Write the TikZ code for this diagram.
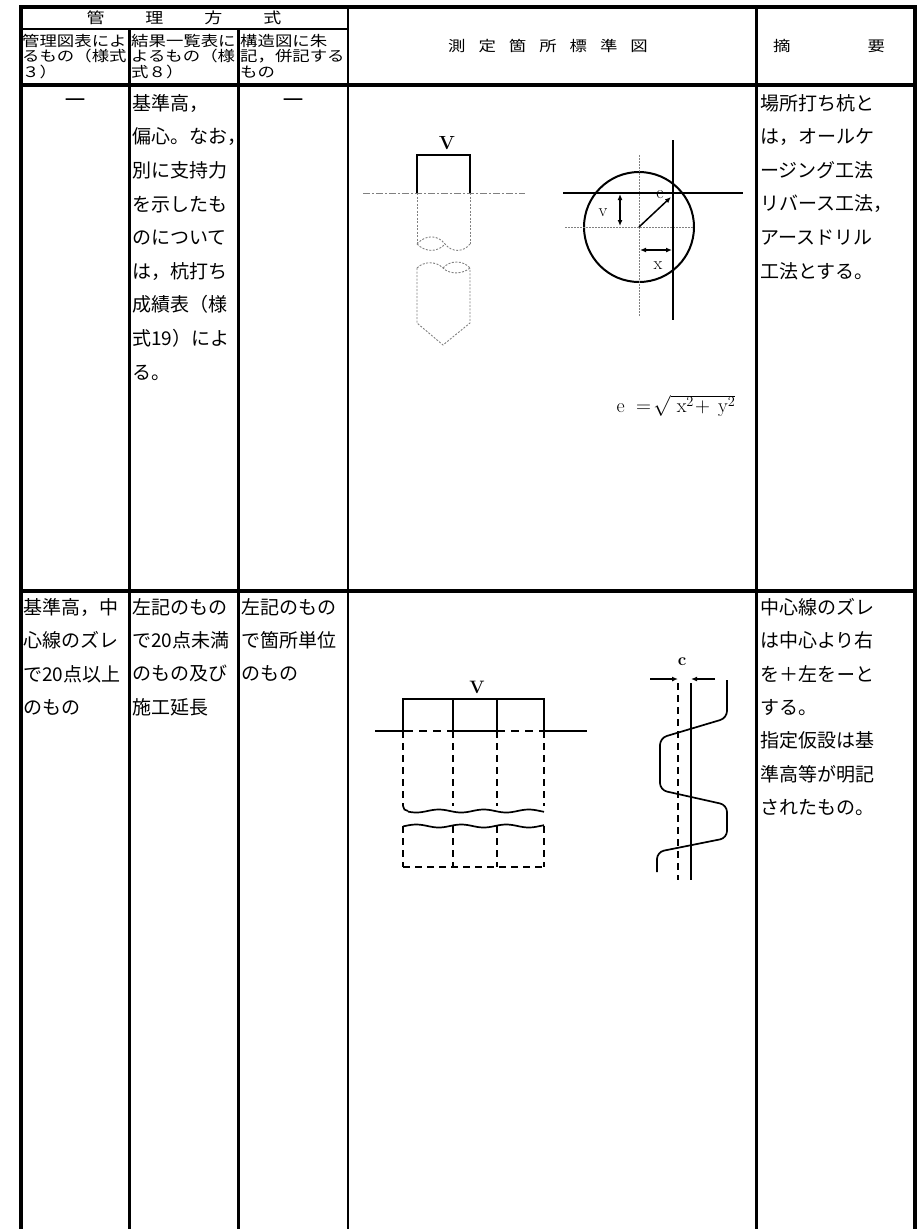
\documentclass[tikz,border=0pt]{standalone}
\usepackage{fontspec}
\newfontfamily\jp{Noto Sans CJK JP}
\newfontfamily\jpw[FakeStretch=1.2]{Noto Sans CJK JP}
\newfontfamily\jpb[FakeBold=3]{Noto Sans CJK JP}
\tikzset{
  cell/.style={font=\jp\fontsize{19}{33.6}\selectfont, anchor=north west, align=left, inner sep=0pt},
  headcell/.style={font=\jpw\fontsize{14.5}{15.5}\selectfont, anchor=north west, align=left, inner sep=0pt},
  title/.style={font=\jpw\fontsize{14.5}{16}\selectfont, inner sep=0pt},
  pile/.style={gray, dash pattern=on 2pt off 1.5pt, line width=.9pt},
  axis/.style={gray, dash pattern=on 1.5pt off 1.5pt, line width=.9pt},
  lbl/.style={font=\fontsize{18}{18}\selectfont, inner sep=0pt},
  wall/.style={line width=1.7pt},
  dim/.style={line width=1.5pt, >={Latex[length=6pt, width=5pt]}}
}
\usetikzlibrary{arrows.meta}
\begin{document}
\begin{tikzpicture}[>=latex, x=1pt, y=-1pt]
\useasboundingbox (0,0) rectangle (919,1229);
\draw[line width=4pt] (19,7)--(917,7);
\draw[line width=4pt] (21,7)--(21,1229);
\draw[line width=4pt] (915,7)--(915,1229);
\draw[line width=4pt] (19,85)--(917,85);
\draw[line width=4pt] (19,591)--(917,591);
\draw[line width=1.6pt] (21,29)--(348,29);
\foreach \x in {129,238}
{
    \draw[line width=3pt] (\x,29)--(\x,1229);
}
\draw[line width=1.6pt] (348,7)--(348,1229);
\draw[line width=3pt] (756,7)--(756,1229);
\node[title, font=\jpw\fontsize{15}{16}\selectfont] (kanri) at (184,18){管\hspace{41pt}理\hspace{41pt}方\hspace{41pt}式};
\node[title] (sokutei) at (548,46){測\hspace{13pt}定\hspace{13pt}箇\hspace{13pt}所\hspace{13pt}標\hspace{13pt}準\hspace{13pt}図};
\node[title] (tekiyo) at (829,46){摘\hspace{77pt}要};
\node[headcell] (h1) at (22,34){管理図表によ\\るもの（様式\\３）};
\node[headcell] (h2) at (131,34){結果一覧表に\\よるもの（様\\式８）};
\node[headcell] (h3) at (240,34){構造図に朱\\記，併記する\\もの};
\node[font=\jpb\fontsize{21}{21}\selectfont, inner sep=0pt] (dash1) at (75,103){―};
\node[font=\jpb\fontsize{21}{21}\selectfont, inner sep=0pt] (dash3) at (293,103){―};
\node[cell] (r1b) at (132,94){基準高，\\偏心。なお，\\別に支持力\\を示したも\\のについて\\は，杭打ち\\成績表（様\\式19）によ\\る。};
\node[cell] (r1e) at (760,94){場所打ち杭と\\は，オールケ\\ージング工法\\リバース工法，\\アースドリル\\工法とする。};
\node[cell, font=\jp\fontsize{19}{33.4}\selectfont] (r2a) at (23,598){基準高，中\\心線のズレ\\で20点以上\\のもの};
\node[cell, font=\jp\fontsize{19}{33.4}\selectfont] (r2b) at (132,598){左記のもの\\で20点未満\\のもの及び\\施工延長};
\node[cell, font=\jp\fontsize{19}{33.4}\selectfont] (r2c) at (241,598){左記のもの\\で箇所単位\\のもの};
\node[cell, font=\jp\fontsize{19}{33.4}\selectfont] (r2e) at (760,598){中心線のズレ\\は中心より右\\を＋左を{\jpb －}と\\する。\\指定仮設は基\\準高等が明記\\されたもの。};
\draw[line width=1.8pt] (417,193)--(417,155)--(470,155)--(470,193);
\node[lbl, font=\fontsize{19}{19}\selectfont\bfseries] (pv) at (447,143){V};
\draw[gray, line width=.9pt, dash pattern=on 7pt off 2pt on 2pt off 2pt] (363,193)--(525,193);
\draw[pile] (417,193)--(417,244) (470,193)--(470,244);
\draw[pile] (417,244) .. controls (426,234) and (438,235) .. (445,244) .. controls (452,253) and (464,252) .. (470,244);
\draw[pile] (417,244) .. controls (426,253) and (438,252) .. (445,244);
\draw[pile] (417,268) .. controls (424,261) and (436,261) .. (443,268) .. controls (450,275) and (463,274) .. (470,268);
\draw[pile] (443,268) .. controls (450,260) and (463,260) .. (470,268);
\draw[pile] (417,268)--(417,323)--(443,345)--(470,323)--(470,268);
\coordinate (o) at (639,227);
\draw[line width=2pt] (o) circle[radius=55pt];
\draw[axis] (639,155)--(639,317) (565,227)--(693,227);
\draw[line width=1.5pt] (563,193)--(743,193);
\draw[line width=1.5pt] (673,140)--(673,320);
\coordinate (vt) at (620,194);
\coordinate (vb) at (620,226);
\draw[dim, <->] (vt)--(vb);
\node[lbl] (lv) at (603,213){v};
\coordinate (et) at (671,197);
\draw[dim, ->] (o)--(et);
\node[lbl] (le) at (660,195){e};
\coordinate (xl) at (640,250);
\coordinate (xr) at (672,250);
\draw[dim, <->] (xl)--(xr);
\node[lbl] (lx) at (658,266){x};
\node[lbl, font=\fontsize{20}{20}\selectfont] (form) at (676,406){$\mathrm{e}\;=\!\sqrt{\ \mathrm{x}^{2}\!+\,\mathrm{y}^{2}}$};
\node[lbl, font=\fontsize{18}{18}\selectfont\bfseries] (sv) at (477,687){V};
\draw[wall] (403,731)--(403,699)--(544,699)--(544,731);
\foreach \x in {453,497}
{
    \draw[wall] (\x,699)--(\x,731);
}
\draw[wall] (375,731)--(405,731) (453,731)--(497,731) (542,731)--(587,731);
\draw[wall, dash pattern=on 8pt off 6pt] (405,731)--(453,731) (497,731)--(542,731);
\foreach \x in {403,453,497,544}
{
    \draw[wall, dash pattern=on 7pt off 5pt] (\x,731)--(\x,806);
    \draw[wall, dash pattern=on 7pt off 5pt] (\x,826)--(\x,867);
}
\draw[wall] (403,806) to[out=-90, in=180] (408,811);
\draw[wall, domain=408:544, samples=60] plot(\x, {811+1.5*sin(8*\x)});
\draw[wall, domain=403:544, samples=60] plot(\x, {826-1.5*sin(8*\x)});
\draw[wall, dash pattern=on 7pt off 5pt] (403,867)--(544,867);
\draw[wall, dash pattern=on 7pt off 5pt] (678,683)--(678,880);
\draw[wall] (691,683)--(691,880);
\node[lbl, font=\fontsize{17}{17}\selectfont\bfseries] (lc) at (682,662){c};
\coordinate (cl) at (650,679);
\coordinate (cr) at (715,679);
\draw[dim, ->] (cl)--(678,679);
\draw[dim, ->] (cr)--(691,679);
\draw[line width=1.7pt, rounded corners=7pt] (727,680)--(727,718)--(660,738)--(660,790)--(727,805)--(727,838)--(657,852)--(657,872);
\end{tikzpicture}
\end{document}
